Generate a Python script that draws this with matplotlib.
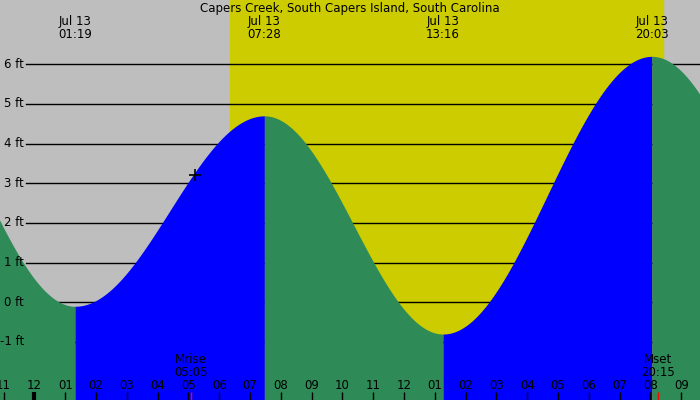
import numpy as np
import matplotlib
matplotlib.use("Agg")
import matplotlib.pyplot as plt

# tide extremes (day, time, height in ft); first and last are off-screen
tide_day = [12, 13, 13, 13, 13, 14]
tide_time = ["19:15", "01:19", "07:28", "13:16", "20:03", "02:15"]
tide_ft = [6.1, -0.1, 4.7, -0.8, 6.2, -0.3]
labelled = [1, 2, 3, 4]

sunrise = "06:21"
sunset = "20:25"
moon_labels = ["Mrise", "Mset"]
moon_times = ["05:05", "20:15"]
now_time = "05:13"
now_ft = 3.2

ft_levels = [-1, 0, 1, 2, 3, 4, 5, 6]
hour_ticks = list(range(-1, 22))

title = "Capers Creek, South Capers Island, South Carolina"

GREY = "#bebebe"
YELLOW = "#cccc00"
GREEN = "#2e8b57"
BLUE = "#0000ff"
FS = 8.5


def hours(day, hhmm):
    h, m = hhmm.split(":")
    return (day - 13) * 24 + int(h) + int(m) / 60.0


t_ext = [hours(d, s) for d, s in zip(tide_day, tide_time)]

fig = plt.figure(figsize=(7, 4), dpi=100)
ax = fig.add_axes([0, 0, 1, 1])
x0, x1 = -1.117, 21.61
y0, y1 = -2.463, 7.62
ax.set_xlim(x0, x1)
ax.set_ylim(y0, y1)
ax.axis("off")

# night / day background
ax.axvspan(x0, x1, color=GREY, zorder=0)
ax.axvspan(hours(13, sunrise), hours(13, sunset), color=YELLOW, zorder=0)

# horizontal grid lines (behind the water)
xstart = x0 + 26 / 700 * (x1 - x0)
for lv in ft_levels:
    ax.plot([xstart, x1], [lv, lv], color="black", lw=1, zorder=1)
    ax.text(xstart - 0.07, lv, f"{lv} ft", ha="right", va="center",
            fontsize=FS, zorder=5)

# tide curve, cosine between extremes, coloured by rising/falling
for i in range(len(t_ext) - 1):
    ta, tb = t_ext[i], t_ext[i + 1]
    ha_, hb = tide_ft[i], tide_ft[i + 1]
    t = np.linspace(ta, tb, 200)
    h = ha_ + (hb - ha_) * (1 - np.cos(np.pi * (t - ta) / (tb - ta))) / 2
    col = BLUE if hb > ha_ else GREEN
    ax.fill_between(t, y0, h, color=col, lw=0, zorder=2)

# current time marker
ax.plot(hours(13, now_time), now_ft, marker="+", color="black", ms=9,
        mew=1.2, zorder=4)

# top labels
ax.text(0.5, 0.994, title, transform=ax.transAxes, ha="center", va="top",
        fontsize=FS)
for i in labelled:
    ax.text(t_ext[i], 0.962, "Jul 13\n" + tide_time[i],
            transform=ax.get_xaxis_transform(), ha="center", va="top",
            fontsize=FS, linespacing=1.0)

# hour ticks along the bottom
xt = ax.get_xaxis_transform()
for hr in hour_ticks:
    lab = "%02d" % ((hr - 1) % 12 + 1)
    ax.text(hr, 0.037, lab, transform=xt, ha="center", va="center",
            fontsize=FS, zorder=5)
    lw = 3 if hr == 0 else 1
    ax.plot([hr, hr], [0, 0.02], transform=xt, color="black", lw=lw,
            solid_capstyle="butt", zorder=5)

# moon rise / set
for lab, tm in zip(moon_labels, moon_times):
    th = hours(13, tm)
    ax.text(th, 0.053, lab + "\n" + tm, transform=xt, ha="center",
            va="bottom", fontsize=FS, linespacing=1.0, zorder=5)
    ax.plot([th, th], [0, 0.02], transform=xt, color="red", lw=1,
            solid_capstyle="butt", zorder=5)

fig.savefig("out.png", dpi=100)
